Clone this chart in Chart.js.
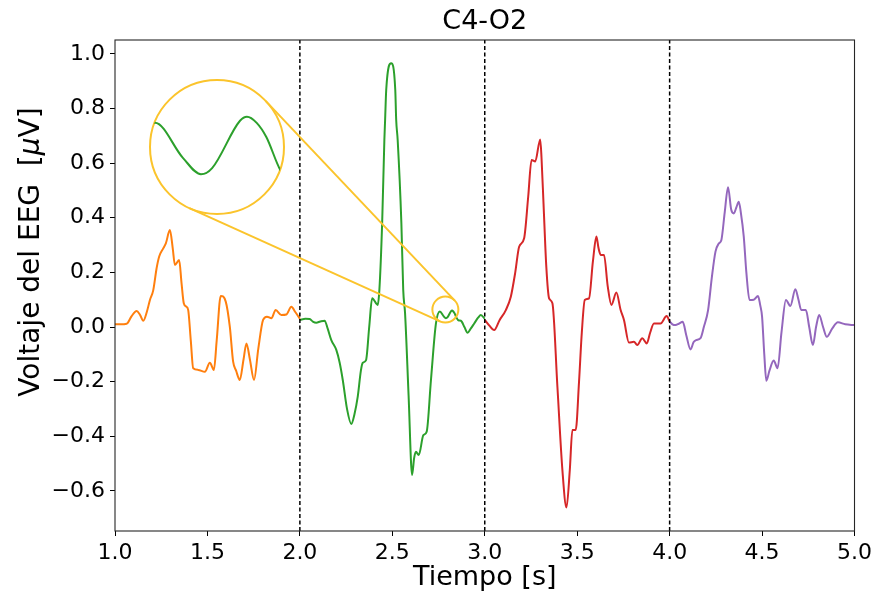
<!DOCTYPE html>
<html>
<head>
<meta charset="utf-8">
<script src="https://cdn.jsdelivr.net/npm/chart.js@4.4.1/dist/chart.umd.min.js"></script>
<style>
  html, body { margin: 0; padding: 0; background: #ffffff; }
  #wrap { position: relative; width: 876px; height: 594px; }
  #main { position: absolute; left: 0; top: 0; }
  #lens { position: absolute; left: 150px; top: 80px; width: 134px; height: 134px;
          border-radius: 50%; overflow: hidden; }
</style>
</head>
<body>
<div id="wrap">
  <canvas id="main" width="876" height="594"></canvas>
  <div id="lens"><canvas id="inset" width="134" height="134"></canvas></div>
</div>
<script>
// ---- EEG segments, C4-O2 channel (time in s, voltage in µV) ----
const orangeT = [1.000, 1.030, 1.063, 1.090, 1.117, 1.135, 1.153, 1.172, 1.189, 1.207, 1.225, 1.239, 1.261, 1.275, 1.297, 1.312, 1.324, 1.347, 1.360, 1.372, 1.385, 1.396, 1.410, 1.423, 1.450, 1.486, 1.513, 1.535, 1.550, 1.572, 1.599, 1.621, 1.639, 1.655, 1.675, 1.695, 1.711, 1.730, 1.752, 1.775, 1.801, 1.822, 1.846, 1.869, 1.900, 1.927, 1.954, 1.975, 2.000];
const orangeV = [0.010, 0.010, 0.012, 0.040, 0.059, 0.045, 0.023, 0.055, 0.099, 0.135, 0.215, 0.258, 0.288, 0.306, 0.355, 0.290, 0.227, 0.245, 0.160, 0.087, 0.075, 0.062, -0.050, -0.151, -0.157, -0.164, -0.131, -0.157, -0.050, 0.114, 0.093, 0.001, -0.127, -0.160, -0.194, -0.120, -0.060, -0.120, -0.194, -0.080, 0.026, 0.038, 0.032, 0.062, 0.044, 0.046, 0.074, 0.055, 0.030];

const greenT = [2.000, 2.030, 2.053, 2.070, 2.089, 2.110, 2.134, 2.150, 2.170, 2.197, 2.215, 2.232, 2.255, 2.278, 2.295, 2.313, 2.330, 2.340, 2.358, 2.375, 2.391, 2.421, 2.430, 2.445, 2.457, 2.461, 2.467, 2.494, 2.516, 2.521, 2.529, 2.549, 2.559, 2.569, 2.588, 2.607, 2.618, 2.628, 2.643, 2.668, 2.686, 2.709, 2.736, 2.757, 2.777, 2.790, 2.798, 2.818, 2.823, 2.830, 2.837, 2.847, 2.860, 2.871, 2.890, 2.907, 2.925, 2.943, 2.965, 2.979, 3.000];
const greenV = [0.026, 0.030, 0.029, 0.020, 0.016, 0.020, 0.023, -0.005, -0.048, -0.084, -0.130, -0.194, -0.300, -0.355, -0.320, -0.255, -0.160, -0.131, -0.121, 0.000, 0.105, 0.081, 0.136, 0.380, 0.685, 0.758, 0.868, 0.966, 0.868, 0.758, 0.685, 0.380, 0.136, 0.050, -0.250, -0.542, -0.480, -0.457, -0.469, -0.396, -0.383, -0.194, 0.013, 0.057, 0.040, 0.032, 0.035, 0.058, 0.060, 0.057, 0.050, 0.034, 0.024, 0.023, 0.000, -0.021, -0.005, 0.013, 0.035, 0.044, 0.030];

const redT = [3.000, 3.025, 3.051, 3.080, 3.114, 3.141, 3.165, 3.186, 3.213, 3.235, 3.253, 3.273, 3.300, 3.307, 3.318, 3.333, 3.348, 3.366, 3.393, 3.420, 3.442, 3.460, 3.474, 3.492, 3.510, 3.525, 3.541, 3.564, 3.585, 3.604, 3.615, 3.627, 3.645, 3.665, 3.685, 3.712, 3.735, 3.753, 3.780, 3.807, 3.825, 3.852, 3.876, 3.895, 3.915, 3.951, 3.984, 4.000];
const redV = [0.026, 0.005, -0.011, 0.025, 0.062, 0.111, 0.200, 0.294, 0.325, 0.477, 0.612, 0.606, 0.687, 0.620, 0.450, 0.220, 0.105, 0.087, -0.219, -0.524, -0.661, -0.524, -0.377, -0.377, -0.200, -0.020, 0.099, 0.105, 0.240, 0.331, 0.290, 0.264, 0.264, 0.150, 0.081, 0.126, 0.062, 0.026, -0.057, -0.054, -0.066, -0.041, -0.060, -0.020, 0.013, 0.013, 0.040, 0.020];

const purpleT = [4.000, 4.015, 4.032, 4.050, 4.071, 4.090, 4.113, 4.130, 4.143, 4.167, 4.185, 4.208, 4.228, 4.248, 4.265, 4.280, 4.298, 4.316, 4.333, 4.347, 4.362, 4.374, 4.385, 4.401, 4.415, 4.432, 4.455, 4.478, 4.490, 4.500, 4.512, 4.523, 4.540, 4.563, 4.584, 4.605, 4.629, 4.653, 4.680, 4.697, 4.712, 4.737, 4.755, 4.775, 4.792, 4.809, 4.830, 4.850, 4.880, 4.910, 4.950, 5.000];
const purpleV = [0.020, 0.010, 0.007, 0.012, 0.019, -0.030, -0.082, -0.055, -0.048, -0.041, 0.000, 0.062, 0.180, 0.276, 0.305, 0.319, 0.420, 0.512, 0.430, 0.416, 0.440, 0.459, 0.420, 0.331, 0.200, 0.099, 0.100, 0.114, 0.080, 0.038, -0.100, -0.197, -0.160, -0.123, -0.151, -0.020, 0.099, 0.077, 0.138, 0.100, 0.062, 0.062, 0.000, -0.066, 0.000, 0.044, 0.000, -0.036, -0.005, 0.017, 0.010, 0.007];

// segment boundaries (s)
const boundaries = [2, 3, 4];

// axes
const xRange = [1.0, 5.0];
const yRange = [-0.747, 1.051];
const xTicks = [1.0, 1.5, 2.0, 2.5, 3.0, 3.5, 4.0, 4.5, 5.0];
const yTicks = [-0.6, -0.4, -0.2, 0.0, 0.2, 0.4, 0.6, 0.8, 1.0];

// magnified window of the green segment
const insetX = [2.7534, 2.8496];
const insetY = [0.0127, 0.0778];
const markCenter = { x: 2.787, y: 0.064 };

const COLORS = { orange: '#ff7f0e', green: '#2ca02c', red: '#d62728', purple: '#9467bd', gold: '#fbc42c' };
const FONT = "'DejaVu Sans', sans-serif";

const pts = (t, v) => t.map((x, i) => ({ x: x, y: v[i] }));
const fmt = v => (v < 0 ? '\u2212' : '') + Math.abs(v).toFixed(1);

function curve(t, v, color) {
  return { data: pts(t, v), borderColor: color, borderWidth: 2, pointRadius: 0,
           cubicInterpolationMode: 'monotone', fill: false, order: 2 };
}
function vline(x0) {
  return { data: [{ x: x0, y: yRange[0] }, { x: x0, y: yRange[1] }], borderColor: '#000000',
           borderWidth: 1.5, borderDash: [4, 2.5], pointRadius: 0, tension: 0, fill: false, order: 1 };
}

// lens geometry on the page (circle of the inset canvas)
const lens = { cx: 217, cy: 147, r: 67 };
const markRadius = 13;

const overlay = {
  id: 'overlay',
  afterDatasetsDraw(chart) {
    const { ctx, chartArea: a, scales: { x, y } } = chart;
    ctx.save();
    // axes frame
    ctx.strokeStyle = '#262626';
    ctx.lineWidth = 1.1;
    ctx.strokeRect(a.left, a.top, a.right - a.left, a.bottom - a.top);

    // small marker circle + lens ring + outer tangents between them
    const mx = x.getPixelForValue(markCenter.x), my = y.getPixelForValue(markCenter.y);
    const dx = mx - lens.cx, dy = my - lens.cy, d = Math.hypot(dx, dy);
    const base = Math.atan2(dy, dx), ang = Math.acos((lens.r - markRadius) / d);
    ctx.strokeStyle = COLORS.gold;
    ctx.lineWidth = 2;
    ctx.beginPath(); ctx.arc(mx, my, markRadius, 0, Math.PI * 2); ctx.stroke();
    ctx.beginPath(); ctx.arc(lens.cx, lens.cy, lens.r, 0, Math.PI * 2); ctx.stroke();
    [base + ang, base - ang].forEach(t => {
      ctx.beginPath();
      ctx.moveTo(lens.cx + lens.r * Math.cos(t), lens.cy + lens.r * Math.sin(t));
      ctx.lineTo(mx + markRadius * Math.cos(t), my + markRadius * Math.sin(t));
      ctx.stroke();
    });

    // y-axis title with italic mu
    const parts = [['Voltaje del EEG  [', 'normal'], ['\u03bc', 'italic'], ['V]', 'normal']];
    let total = 0;
    parts.forEach(p => { ctx.font = p[1] + ' 28px ' + FONT; p.push(ctx.measureText(p[0]).width); total += p[2]; });
    ctx.translate(39, 252);
    ctx.rotate(-Math.PI / 2);
    ctx.fillStyle = '#000000';
    ctx.textBaseline = 'alphabetic';
    ctx.textAlign = 'left';
    let cur = -total / 2;
    parts.forEach(p => { ctx.font = p[1] + ' 28px ' + FONT; ctx.fillText(p[0], cur, 0); cur += p[2]; });
    ctx.restore();
  }
};

new Chart(document.getElementById('main'), {
  type: 'line',
  data: {
    datasets: [
      curve(orangeT, orangeV, COLORS.orange),
      curve(greenT, greenV, COLORS.green),
      curve(redT, redV, COLORS.red),
      curve(purpleT, purpleV, COLORS.purple),
      ...boundaries.map(vline)
    ]
  },
  options: {
    responsive: false,
    animation: false,
    devicePixelRatio: 1,
    layout: { autoPadding: false, padding: { left: 0, right: 20, top: 0, bottom: 0 } },
    plugins: {
      legend: { display: false },
      tooltip: { enabled: false },
      title: { display: true, text: 'C4-O2', fullSize: false, color: '#000000',
               font: { family: FONT, size: 27, weight: 'normal' }, padding: { top: 6, bottom: 1.6 } }
    },
    scales: {
      x: {
        type: 'linear', min: xRange[0], max: xRange[1],
        afterBuildTicks: s => { s.ticks = xTicks.map(v => ({ value: v })); },
        afterFit: s => { s.height = 63; },
        grid: { display: true, drawOnChartArea: false, drawTicks: true, tickLength: 5, color: '#000000' },
        border: { display: false },
        ticks: { color: '#000000', padding: 4, maxRotation: 0, autoSkip: false,
                 font: { family: FONT, size: 22 }, callback: v => fmt(v) },
        title: { display: true, text: 'Tiempo [s]', color: '#000000', padding: 0,
                 font: { family: FONT, size: 27 } }
      },
      y: {
        type: 'linear', min: yRange[0], max: yRange[1],
        afterBuildTicks: s => { s.ticks = yTicks.map(v => ({ value: v })); },
        afterFit: s => { s.width = 115; },
        grid: { display: true, drawOnChartArea: false, drawTicks: true, tickLength: 5, color: '#000000' },
        border: { display: false },
        ticks: { color: '#000000', padding: 5, autoSkip: false,
                 font: { family: FONT, size: 22 }, callback: v => fmt(v) }
      }
    }
  },
  plugins: [overlay]
});

// magnified view of the green segment inside the lens
new Chart(document.getElementById('inset'), {
  type: 'line',
  data: { datasets: [ { data: pts(greenT, greenV), borderColor: COLORS.green, borderWidth: 2, pointRadius: 0,
                        cubicInterpolationMode: 'monotone', fill: false } ] },
  options: {
    responsive: false,
    animation: false,
    devicePixelRatio: 1,
    layout: { autoPadding: false, padding: 0 },
    plugins: { legend: { display: false }, tooltip: { enabled: false } },
    scales: {
      x: { type: 'linear', display: false, min: insetX[0], max: insetX[1] },
      y: { type: 'linear', display: false, min: insetY[0], max: insetY[1] }
    }
  }
});
</script>
</body>
</html>
